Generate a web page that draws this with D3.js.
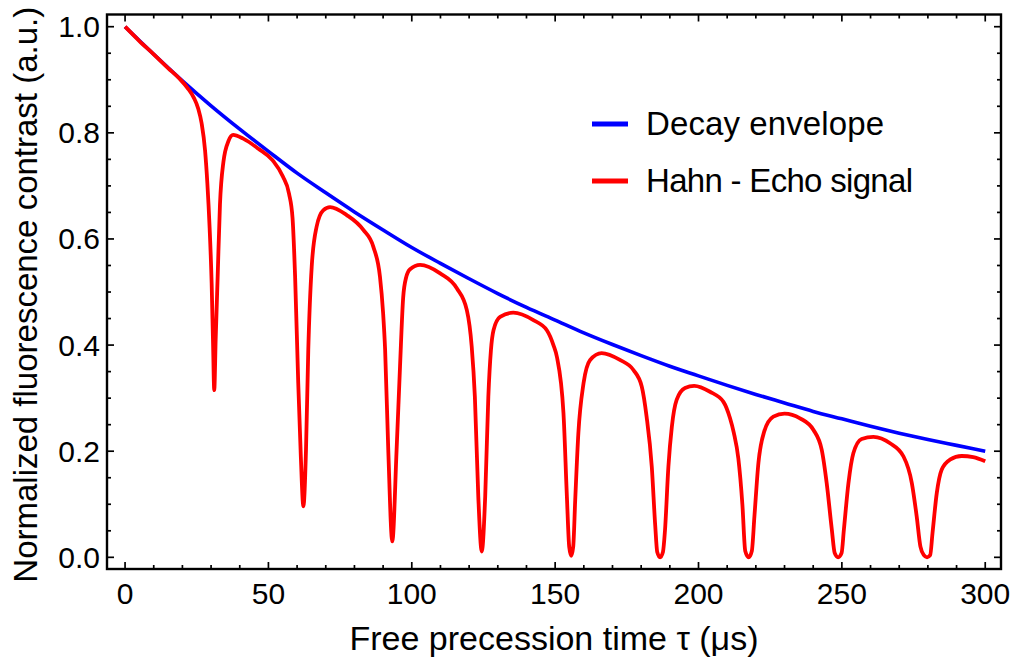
<!DOCTYPE html>
<html>
<head>
<meta charset="utf-8">
<script src="https://cdn.jsdelivr.net/npm/d3@7"></script>
<style>
    body { margin: 0; background: #fff; }
    text { font-family: "Liberation Sans", Arial, sans-serif; }
</style>
</head>
<body>
<div id="chart"></div>
<script>

// decay envelope, every 10 us
var envTime  = [0, 10, 20, 30, 40, 50, 60, 70, 80, 90, 100, 110, 120, 130, 140, 150,
                160, 170, 180, 190, 200, 210, 220, 230, 240, 250, 260, 270, 280, 290, 300];
var envValue = [1.000, 0.948, 0.898, 0.851, 0.807, 0.765, 0.724, 0.687, 0.651, 0.617, 0.584,
                0.554, 0.525, 0.497, 0.471, 0.447, 0.423, 0.401, 0.380, 0.360, 0.342,
                0.324, 0.307, 0.291, 0.275, 0.261, 0.247, 0.234, 0.222, 0.211, 0.200];

// hahn echo signal (denser around the dips)
var echoTime = [
    0, 5, 10, 15, 19, 22, 24, 25.5, 26.7, 27.9, 28.7, 29.5, 30.2, 30.7, 31.1, 31.6, 32.3, 33.1, 34.3, 36.1, 37.7,
    41.2, 46.5, 51.5, 55.0, 57.2, 58.4, 59.3, 60.4, 61.3, 62.2, 63.1, 63.9, 65.1, 66.8, 69.1, 71.5,
    77.3, 83.1, 86.6, 88.9, 90.0, 90.7, 91.8, 93.2, 94.7, 95.9, 97.0, 98.0, 99.4, 102.9,
    109.9, 115.7, 119.2, 120.9, 122.0, 123.2, 124.4, 125.6, 126.7, 127.6, 128.5, 130.8, 135.4,
    142.4, 147.1, 149.4, 150.6, 152.9, 154.1, 154.9, 155.6, 156.3, 157.0, 158.1, 159.9, 162.2, 166.2,
    172.6, 177.3, 180.2, 181.9, 183.7, 184.9, 185.6, 186.6, 187.6, 188.3, 189.5, 190.7, 192.4, 195.3, 198.5,
    204.0, 208.7, 211.0, 212.3, 213.9, 215.3, 216.3, 217.5, 218.6, 219.5, 220.9, 222.9, 226.1, 230.0,
    235.4, 240.1, 243.0, 244.7, 246.5, 247.5, 248.7, 249.9, 250.7, 252.3, 254.0, 256.9, 261.0,
    266.8, 271.5, 274.4, 276.1, 277.4, 278.6, 279.7, 280.8, 281.6, 283.1, 284.8, 287.7, 291.8, 295.8, 300];
var echoValue = [
    1.000, 0.973, 0.948, 0.922, 0.902, 0.883, 0.866, 0.846, 0.818, 0.767, 0.705, 0.620, 0.516, 0.400, 0.315, 0.410, 0.530, 0.665, 0.745, 0.785, 0.796,
    0.789, 0.770, 0.748, 0.718, 0.685, 0.640, 0.530, 0.328, 0.190, 0.096, 0.202, 0.391, 0.548, 0.623, 0.654, 0.660,
    0.645, 0.617, 0.585, 0.529, 0.460, 0.391, 0.202, 0.030, 0.202, 0.360, 0.490, 0.527, 0.543, 0.551,
    0.535, 0.507, 0.466, 0.397, 0.303, 0.114, 0.011, 0.114, 0.303, 0.390, 0.428, 0.453, 0.461,
    0.447, 0.428, 0.400, 0.378, 0.272, 0.114, 0.020, 0.003, 0.020, 0.108, 0.234, 0.328, 0.372, 0.385,
    0.372, 0.353, 0.322, 0.265, 0.171, 0.060, 0.010, 0.000, 0.010, 0.050, 0.171, 0.246, 0.297, 0.319, 0.323,
    0.312, 0.293, 0.262, 0.235, 0.186, 0.100, 0.012, 0.000, 0.012, 0.077, 0.178, 0.237, 0.265, 0.271,
    0.262, 0.240, 0.202, 0.140, 0.052, 0.008, 0.000, 0.008, 0.052, 0.140, 0.196, 0.223, 0.227,
    0.215, 0.190, 0.140, 0.077, 0.020, 0.004, 0.000, 0.004, 0.045, 0.121, 0.165, 0.184, 0.191, 0.189, 0.181];

var xTicks = [0, 50, 100, 150, 200, 250, 300];
var yTicks = [0.0, 0.2, 0.4, 0.6, 0.8, 1.0];
var legendLabels = ['Decay envelope', 'Hahn - Echo signal'];
var legendColors = ['#0000ff', '#ff0000'];

var W = 1019, H = 663;
var pLeft = 107, pRight = 1001, pTop = 14.5, pBottom = 569;

var svg = d3.select('#chart').append('svg')
    .attr('width', W)
    .attr('height', H);

var x = d3.scaleLinear().domain([-6.3, 305.5]).range([pLeft, pRight]);
var y = d3.scaleLinear().domain([-0.022, 1.023]).range([pBottom, pTop]);

var xMinor = d3.range(0, 301, 10).filter(v => v % 50 != 0);
var yMinor = d3.range(0, 21).map(i => i * 0.05).filter((v, i) => i % 4 != 0);

function drawTicks(g, vals, horizontal, len) {
    vals.forEach(v => {
        if (horizontal) {
            g.append('line').attr('x1', x(v)).attr('x2', x(v)).attr('y1', pBottom).attr('y2', pBottom - len);
            g.append('line').attr('x1', x(v)).attr('x2', x(v)).attr('y1', pTop).attr('y2', pTop + len);
        } else {
            g.append('line').attr('y1', y(v)).attr('y2', y(v)).attr('x1', pLeft).attr('x2', pLeft + len);
            g.append('line').attr('y1', y(v)).attr('y2', y(v)).attr('x1', pRight).attr('x2', pRight - len);
        }
    })
}

let ticks = svg.append('g').attr('stroke', '#000').attr('stroke-width', 1.7);
drawTicks(ticks, xTicks, true, 7);
drawTicks(ticks, xMinor, true, 4);
drawTicks(ticks, yTicks, false, 7);
drawTicks(ticks, yMinor, false, 4);

// curves
let line = d3.line().curve(d3.curveMonotoneX);

svg.append('path')
    .datum(envTime.map((t, i) => [x(t), y(envValue[i])]))
    .attr('fill', 'none')
    .attr('stroke', legendColors[0])
    .attr('stroke-width', 3.6)
    .attr('d', line);

svg.append('path')
    .datum(echoTime.map((t, i) => [x(t), y(echoValue[i])]))
    .attr('fill', 'none')
    .attr('stroke', legendColors[1])
    .attr('stroke-width', 3.8)
    .attr('stroke-linejoin', 'round')
    .attr('d', line);

// frame
svg.append('rect')
    .attr('x', pLeft).attr('y', pTop)
    .attr('width', pRight - pLeft).attr('height', pBottom - pTop)
    .attr('fill', 'none')
    .attr('stroke', '#000')
    .attr('stroke-width', 2.4);

// tick labels
svg.selectAll('text.xt').data(xTicks).enter().append('text')
    .attr('class', 'xt')
    .attr('x', d => x(d))
    .attr('y', 604)
    .attr('text-anchor', 'middle')
    .attr('font-size', 30)
    .text(d => d);

svg.selectAll('text.yt').data(yTicks).enter().append('text')
    .attr('class', 'yt')
    .attr('x', 100)
    .attr('y', d => y(d) + 10.5)
    .attr('text-anchor', 'end')
    .attr('font-size', 30)
    .text(d => d.toFixed(1));

// axis titles
svg.append('text')
    .attr('x', (pLeft + pRight) / 2)
    .attr('y', 650)
    .attr('text-anchor', 'middle')
    .attr('font-size', 34)
    .text('Free precession time τ (μs)');

svg.append('text')
    .attr('transform', 'translate(37,' + ((pTop + pBottom) / 2 + 3) + ') rotate(-90)')
    .attr('text-anchor', 'middle')
    .attr('font-size', 33)
    .text('Normalized fluorescence contrast (a.u.)');

// legend
var legendWidths = [238, 267];
legendLabels.forEach((lab, i) => {
    let ly = 124 + i * 57;
    svg.append('line')
        .attr('x1', 592).attr('x2', 628)
        .attr('y1', ly).attr('y2', ly)
        .attr('stroke', legendColors[i])
        .attr('stroke-width', 5);
    svg.append('text')
        .attr('x', 646)
        .attr('y', ly + 11)
        .attr('font-size', 33)
        .attr('textLength', legendWidths[i])
        .attr('lengthAdjust', 'spacing')
        .text(lab);
})

</script>
</body>
</html>
